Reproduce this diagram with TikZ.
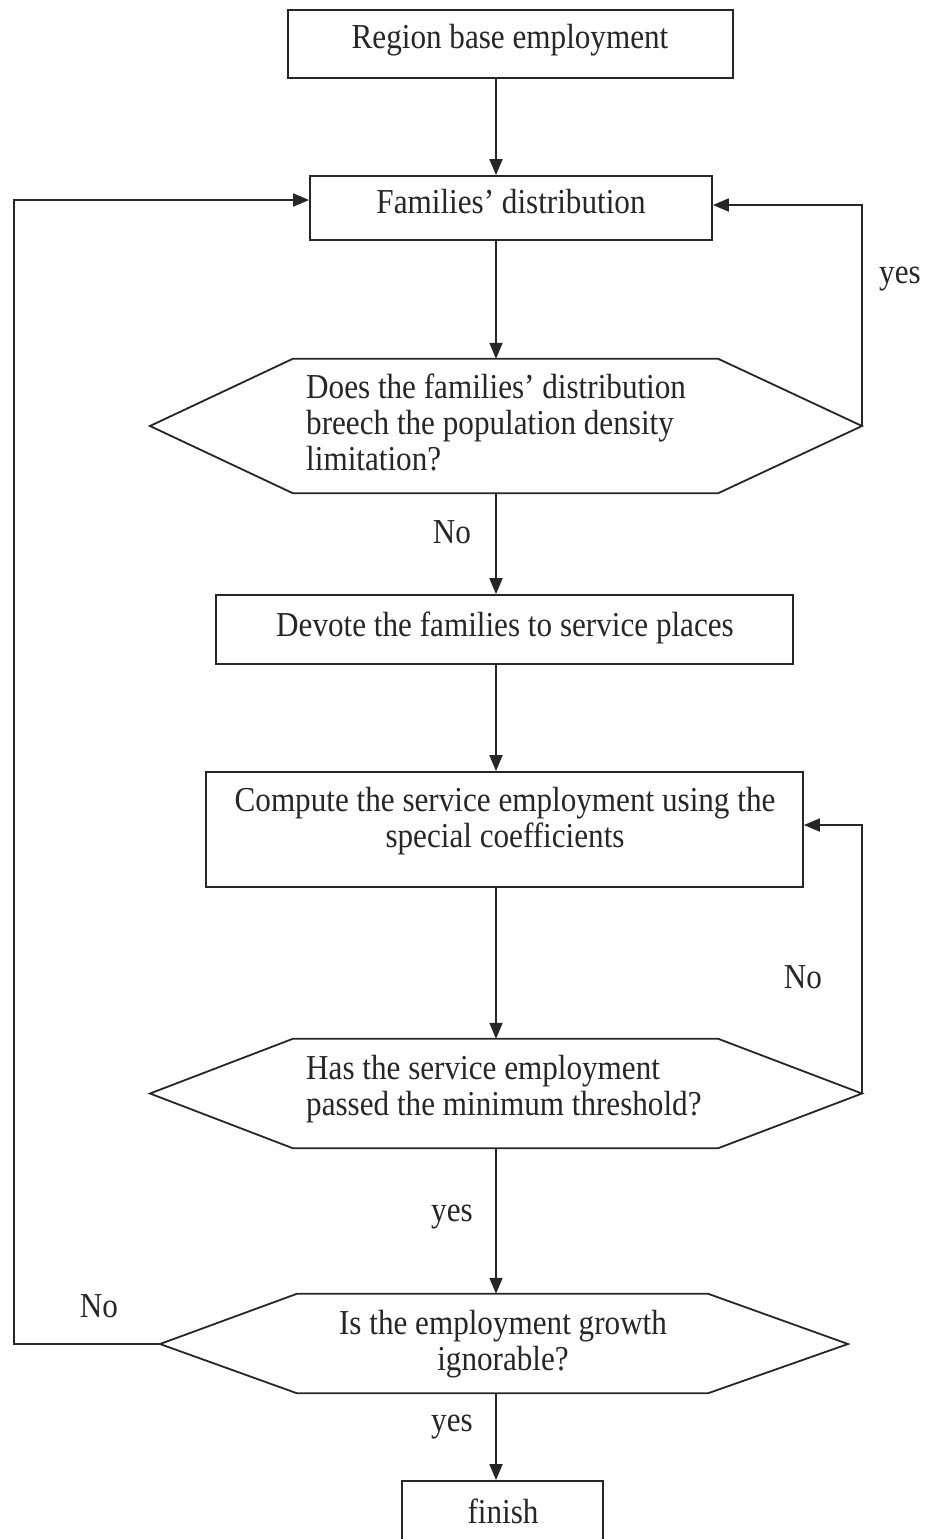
\documentclass[tikz,border=0pt]{standalone}
\usepackage{fontspec}
\setmainfont{Liberation Serif}[FakeStretch=0.89]
\usetikzlibrary{arrows.meta}
\begin{document}
\begin{tikzpicture}[x=1pt,y=-1pt,
  ink/.style={draw=black!85, line width=1.8pt},
  box/.style={ink, rectangle, inner sep=0pt},
  core/.style={rectangle, inner sep=0pt},
  txt/.style={font=\fontsize{35}{36}\selectfont, text=black!85, inner sep=0pt},
  flow/.style={ink, -{Triangle[length=16pt,width=13pt]}},
  line join=miter]
\useasboundingbox (0,0) rectangle (930,1539);

% process boxes
\node[box, minimum width=445, minimum height=68]  (b1)  at (510.5,44)    {};
\node[box, minimum width=402, minimum height=64]  (b2)  at (511,208)     {};
\node[box, minimum width=577, minimum height=69]  (b3)  at (504.5,629.5) {};
\node[box, minimum width=597, minimum height=115] (b4)  at (504.5,829.5) {};
\node[box, minimum width=201, minimum height=84]  (fin) at (502.5,1523)  {};

% decision hexagons: a core rectangle plus two side tips
\node[core, minimum width=425, minimum height=134] (h1) at (505.5,426)    {};
\node[core, minimum width=425, minimum height=109] (h2) at (505.5,1093.5) {};
\node[core, minimum width=411, minimum height=99]  (h3) at (502.5,1343.5) {};
\coordinate (h1w) at (150,426);    \coordinate (h1e) at (862,426);
\coordinate (h2w) at (150,1093.5); \coordinate (h2e) at (862,1093.5);
\coordinate (h3w) at (160,1344);   \coordinate (h3e) at (848,1344);
\foreach \h in {h1,h2,h3}
  \draw[ink] (\h.north west) -- (\h.north east) -- (\h e) -- (\h.south east)
             -- (\h.south west) -- (\h w) -- cycle;

% texts
\node[txt, anchor=base] (t1) at (510,48)  {Region base employment};
\node[txt, anchor=base] (t2) at (511,213) {Families’ distribution};
\node[txt, anchor=base west] (t3) at (306,398)
  {\begin{tabular}[t]{@{}l@{}}Does the families’ distribution\\breech the population density\\limitation?\end{tabular}};
\node[txt, anchor=base] (t4) at (505,636) {Devote the families to service places};
\node[txt, anchor=base] (t5) at (505,811)
  {\begin{tabular}[t]{@{}c@{}}Compute the service employment using the\\special coefficients\end{tabular}};
\node[txt, anchor=base west] (t6) at (306,1079)
  {\begin{tabular}[t]{@{}l@{}}Has the service employment\\passed the minimum threshold?\end{tabular}};
\node[txt, anchor=base] (t7) at (503,1334)
  {\begin{tabular}[t]{@{}c@{}}Is the employment growth\\ignorable?\end{tabular}};
\node[txt, anchor=base] (t8) at (503,1523) {finish};

% branch labels
\node[txt, anchor=base west] (l1) at (879,283)  {yes};
\node[txt, anchor=base] (l2) at (452,543)  {No};
\node[txt, anchor=base] (l3) at (803,988)  {No};
\node[txt, anchor=base] (l4) at (452,1221) {yes};
\node[txt, anchor=base] (l5) at (99,1317)  {No};
\node[txt, anchor=base] (l6) at (452,1431) {yes};

% main flow
\coordinate (spine) at (496,0);
\draw[flow] (b1.south -| spine) -- (b2.north -| spine);
\draw[flow] (b2.south -| spine) -- (h1.north -| spine);
\draw[flow] (h1.south -| spine) -- (b3.north -| spine);
\draw[flow] (b3.south -| spine) -- (b4.north -| spine);
\draw[flow] (b4.south -| spine) -- (h2.north -| spine);
\draw[flow] (h2.south -| spine) -- (h3.north -| spine);
\draw[flow] (h3.south -| spine) -- (fin.north -| spine);

% feedback loops
\coordinate (j1) at (862,205);
\draw[flow] (h1e) -- (j1) -- (j1 -| b2.east);
\coordinate (j2) at (862,825);
\draw[flow] (h2e) -- (j2) -- (j2 -| b4.east);
\coordinate (j3) at (14,200);
\draw[flow] (h3w) -| (j3) -- (j3 -| b2.west);
\end{tikzpicture}
\end{document}
